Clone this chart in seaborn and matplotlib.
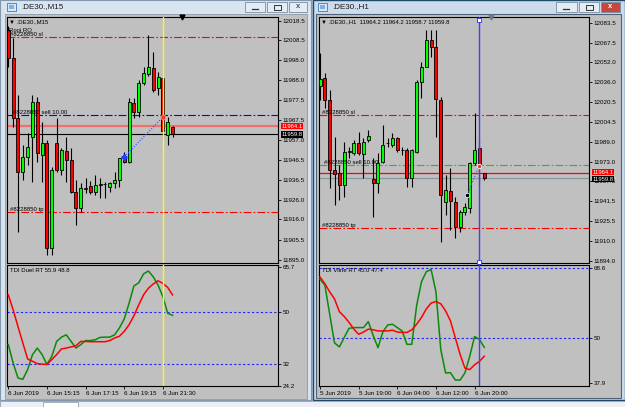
import numpy as np
import matplotlib
matplotlib.use('Agg')
import matplotlib.pyplot as plt
import matplotlib.transforms as mtransforms
from matplotlib.patches import Rectangle
import seaborn as sns

plt.rcParams['font.family'] = ['Liberation Sans', 'DejaVu Sans']
plt.rcParams['font.size'] = 4.5

# ---- .DE30., M15 (left window) ----
m15_open = [12014.0, 11999.1, 11968.1, 11940.6, 11948.3, 11958.6, 11976.7, 11949.2, 11955.2, 11901.0,
            11955.2, 11941.4, 11951.3, 11946.6, 11930.3, 11921.7, 11931.6, 11933.2, 11930.1, 11933.7,
            11934.0, 11932.8, 11934.6, 11936.3, 11947.5, 11945.7, 11975.9, 11971.5, 11986.2, 11991.0,
            11994.2, 11983.6, 11988.8, 11959.5, 11963.8]
m15_high = [12016.0, 12009.4, 11980.2, 11954.4, 11960.5, 11980.2, 11979.3, 11966.4, 11956.9, 11943.2,
            11968.1, 11952.8, 11958.6, 11952.8, 11936.3, 11934.6, 11937.3, 11935.8, 11938.9, 11937.3,
            11935.4, 11935.4, 11940.6, 11947.6, 11950.9, 11978.5, 11978.5, 11987.9, 11994.8, 12011.1,
            12002.3, 11992.2, 11989.6, 11969.0, 11964.2]
m15_low = [11994.8, 11963.8, 11909.6, 11936.3, 11944.0, 11935.4, 11945.7, 11935.4, 11897.6, 11897.6,
           11940.6, 11938.9, 11935.4, 11929.5, 11913.1, 11919.9, 11929.6, 11929.1, 11928.6, 11927.0,
           11927.0, 11930.3, 11932.0, 11932.8, 11944.9, 11944.9, 11968.1, 11969.0, 11985.3, 11990.0,
           11981.9, 11980.2, 11958.6, 11954.4, 11958.5]
m15_close = [11999.1, 11968.1, 11940.6, 11948.3, 11953.5, 11976.7, 11950.1, 11955.2, 11901.0, 11941.4,
             11941.4, 11951.8, 11946.6, 11930.3, 11921.7, 11932.0, 11932.0, 11930.1, 11933.7, 11934.0,
             11934.3, 11934.7, 11936.3, 11947.5, 11945.7, 11976.4, 11971.5, 11986.2, 11991.4, 11994.8,
             11982.7, 11989.6, 11961.6, 11966.4, 11959.8]
m15_ticks = [12018.5, 12008.5, 11998.0, 11988.0, 11977.5, 11967.5, 11957.0,
             11946.5, 11936.5, 11926.0, 11916.0, 11905.5, 11895.0]
m15_dates = ['6 Jun 2019', '6 Jun 15:15', '6 Jun 17:15', '6 Jun 19:15', '6 Jun 21:30']
m15_date_pos = [0, 8, 16, 24, 32]
m15_tdi_red = [55.9, 50.7, 44.9, 39.2, 33.6, 32.8, 32.0, 31.8, 31.7, 33.4, 35.1, 37.1, 37.4, 37.8,
               38.2, 39.7, 39.7, 39.6, 39.6, 39.6, 39.6, 40.0, 40.9, 41.5, 43.2, 45.5, 48.6, 52.4,
               55.9, 58.2, 59.7, 60.8, 59.9, 58.5, 55.9]
m15_tdi_green = [38.6, 32.2, 27.0, 26.5, 29.9, 35.1, 37.4, 35.1, 31.7, 34.5, 39.7, 41.2, 42.0, 39.7,
                 37.4, 38.6, 40.0, 40.0, 40.3, 41.1, 41.2, 41.2, 42.0, 44.4, 47.5, 53.0, 59.0, 60.1,
                 63.2, 64.2, 62.2, 59.3, 55.3, 49.5, 48.8]
m15_tdi_ticks = [65.7, 50, 32, 24.2]
m15_tdi_labels = ['65.7', '50', '32', '24.2']
m15_tdi_levels = [50, 32]
m15_trade_x = [24, 32]
m15_trade_price = [11948.2, 11968.8]
m15_vline = 32

# ---- .DE30., H1 (right window) ----
h1_open = [12033.2, 12039.3, 12022.0, 11966.4, 11963.7, 11954.4, 11980.9, 11979.6, 11988.1, 11978.8,
           11990.2, 11959.2, 11955.8, 11973.0, 11987.6, 11986.2, 11991.6, 11982.3, 11982.3, 11959.8,
           11980.9, 12036.6, 12048.5, 12069.7, 12063.9, 12022.0, 11941.2, 11949.7, 11941.2, 11921.3,
           11933.2, 11936.4, 11971.7, 11983.6, 11964.2]
h1_high = [12059.4, 12043.3, 12030.0, 11992.8, 11970.3, 11988.9, 11984.9, 11990.2, 11996.8, 11991.6,
           11998.2, 11975.7, 11979.6, 12002.2, 11991.6, 11995.5, 11992.8, 11984.9, 11983.6, 11983.0,
           12037.9, 12052.5, 12077.7, 12077.7, 12077.7, 12024.7, 11962.4, 11968.0, 11945.1, 11934.6,
           11939.9, 11973.0, 12011.7, 11991.6, 11964.2]
h1_low = [12022.0, 12015.4, 11951.8, 11938.5, 11942.5, 11945.1, 11975.7, 11978.3, 11978.3, 11959.8,
          11988.9, 11929.2, 11947.8, 11971.7, 11984.9, 11984.9, 11980.9, 11978.3, 11953.1, 11953.1,
          11979.9, 12023.4, 12048.5, 12056.5, 11992.8, 11909.3, 11930.6, 11918.7, 11912.1, 11917.3,
          11930.6, 11931.9, 11970.3, 11954.4, 11958.7]
h1_close = [12038.7, 12022.0, 11966.4, 11962.9, 11954.4, 11980.9, 11981.3, 11987.6, 11979.6, 11988.9,
            11993.6, 11955.8, 11971.7, 11986.2, 11987.8, 11991.6, 11982.3, 11982.4, 11959.8, 11982.3,
            12036.6, 12048.5, 12069.7, 12063.9, 12022.8, 11946.5, 11950.5, 11941.7, 11921.3, 11933.2,
            11937.2, 11971.7, 11982.3, 11969.0, 11959.8]
h1_ticks = [12083.5, 12067.5, 12052.0, 12036.0, 12020.5, 12004.5, 11989.0,
            11973.0, 11957.5, 11941.5, 11925.5, 11910.0, 11894.0]
h1_dates = ['5 Jun 2019', '5 Jun 19:00', '6 Jun 04:00', '6 Jun 12:00', '6 Jun 20:00']
h1_date_pos = [0, 8, 16, 24, 32]
h1_tdi_red = [66.3, 64.5, 62.3, 60.4, 57.0, 55.7, 54.1, 52.3, 50.9, 51.5, 52.3, 52.1, 51.8, 51.8,
              51.8, 52.0, 51.5, 51.4, 51.4, 52.1, 53.6, 55.4, 57.7, 59.3, 59.7, 59.1, 57.2, 54.5,
              50.0, 45.5, 41.8, 41.4, 42.7, 43.6, 45.0]
h1_tdi_green = [65.7, 64.1, 56.3, 48.6, 47.5, 50.0, 52.5, 52.7, 52.7, 52.7, 54.3, 50.6, 47.3, 51.5,
                53.4, 53.6, 52.7, 51.8, 48.2, 48.2, 58.6, 65.0, 67.7, 68.3, 62.3, 46.8, 40.5, 40.6,
                38.6, 38.6, 40.5, 45.0, 50.3, 49.5, 47.4]
h1_tdi_ticks = [68.6, 50, 37.9]
h1_tdi_labels = ['68.6', '50', '37.9']
h1_tdi_levels = [68.6, 50]
h1_trade_x = [30.5, 32.9]
h1_trade_price = [11946.5, 11969.5]
h1_vline = 33

# order #8228850 and current quotes
order_sl = 12010.0
order_entry = 11970.0
order_tp = 11920.0
ask = 11964.1
bid = 11959.8

W, H = 625, 407
fig = plt.figure(figsize=(W / 100, H / 100), dpi=100)
fig.patch.set_facecolor('#aebfd2')

# window chrome
bg = fig.add_axes([0, 0, 1, 1])
bg.set_xlim(0, W)
bg.set_ylim(H, 0)
bg.axis('off')
bg.set_zorder(-5)
bg.add_patch(Rectangle((0, 0), 311, 400, fc='#d9e4f1', ec='#8397ad', lw=0.8))
bg.add_patch(Rectangle((313, 0), 311.5, 400, fc='#cddcec', ec='#1f4a6a', lw=1.0))
bg.add_patch(Rectangle((5, 14), 302, 385, fc='#c0c0c0', ec='#8d9aa8', lw=0.6))
bg.add_patch(Rectangle((316, 14), 305, 384, fc='#c0c0c0', ec='#4f6378', lw=0.8))
bg.add_patch(Rectangle((0, 400.5), W, 7, fc='#eceff3', ec='#97a3b0', lw=0.6))
bg.add_patch(Rectangle((43, 401.5), 35, 6, fc='white', ec='#97a3b0', lw=0.6))
for x0, title in [(7, '.DE30.,M15'), (318, '.DE30.,H1')]:
    bg.add_patch(Rectangle((x0, 2.5), 9, 8, fc='#d8e8f8', ec='#3d78b8', lw=0.6))
    bg.add_patch(Rectangle((x0 + 2, 5), 5, 3.5, fc='#7fb0e0', ec='none'))
    bg.text(x0 + 14, 7, title, fontsize=5.8, va='center', color='#1a1a1a')
for (x0, w), face in zip([(245, 20), (267, 20), (289, 18), (556, 21), (579, 20), (601, 19)],
                         ['#e3ebf4', '#e3ebf4', '#e3ebf4', '#e3ebf4', '#e3ebf4', '#c8473c']):
    bg.add_patch(Rectangle((x0, 2), w, 10, fc=face, ec='#7b8da1', lw=0.6))
for x0 in [245, 556]:
    bg.plot([x0 + 7, x0 + 13], [8.5, 8.5], color='#333333', lw=0.9)
for x0 in [267, 579]:
    bg.add_patch(Rectangle((x0 + 6.5, 4.5), 7, 5, fc='none', ec='#333333', lw=0.7))
bg.text(298, 7, 'x', fontsize=5.5, ha='center', va='center', color='#555555', fontweight='bold')
bg.text(610.5, 7, 'x', fontsize=5.5, ha='center', va='center', color='white', fontweight='bold')


def add_px_axes(x0, y0, x1, y1):
    ax = fig.add_axes([x0 / W, 1 - y1 / H, (x1 - x0) / W, (y1 - y0) / H])
    ax.set_facecolor('#c0c0c0')
    for s in ax.spines.values():
        s.set_color('black')
        s.set_linewidth(0.8)
    ax.yaxis.tick_right()
    ax.tick_params(axis='y', length=2, width=0.6, pad=1, labelsize=4.5)
    return ax


def draw_candles(ax, o, h, l, c):
    o, h, l, c = map(np.asarray, (o, h, l, c))
    idx = np.arange(len(o))
    ax.vlines(idx, l, h, color='black', lw=0.8, zorder=3)
    body_lo = np.minimum(o, c)
    body_h = np.maximum(np.abs(c - o), 0.05)
    colors = np.where(c >= o, '#00ff00', '#ff0000')
    ax.bar(idx, body_h, bottom=body_lo, width=0.62, color=colors,
           edgecolor='black', linewidth=0.6, zorder=4)


def price_box(ax, value, text, face, dy):
    ax.annotate(text, xy=(1, value), xycoords=('axes fraction', 'data'),
                xytext=(2.2, dy), textcoords='offset points', va='center', ha='left',
                fontsize=4.2, color='white', annotation_clip=False, zorder=10,
                bbox=dict(boxstyle='square,pad=0.12', fc=face, ec='none'))


dashdot = (0, (7, 2, 1.5, 2))


def main_panel(x0, x1, xlim, ylim, o, h, l, c, ticks, entry_color, ask_kw, bid_kw,
               head, vline, vline_color, trade_x, trade_price, shift_x, shift_color, box_dy):
    ax = add_px_axes(x0, 17.3, x1, 263.3)
    draw_candles(ax, o, h, l, c)
    ax.set_xlim(*xlim)
    ax.set_ylim(*ylim)
    ax.set_xticks([])
    ax.set_yticks(ticks)
    ax.set_yticklabels([f'{t:.1f}' for t in ticks])
    ax.axhline(order_sl, color='#ff0000', lw=0.8, ls=dashdot, zorder=2)
    ax.axhline(order_entry, color=entry_color, lw=0.8, ls=dashdot, zorder=2)
    ax.axhline(order_tp, color='#ff0000', lw=0.8, ls=dashdot, zorder=2)
    ax.axhline(ask, zorder=2, **ask_kw)
    ax.axhline(bid, zorder=2, **bid_kw)
    ax.axvline(vline, color=vline_color, lw=1.0, zorder=5)
    ax.plot(trade_x, trade_price, color='#3050ff', lw=0.8, ls=(0, (1, 1.5)), zorder=6)
    ax.text(0.4, order_sl, '#8228850 sl', fontsize=4.3, va='bottom', zorder=7)
    ax.text(0.9, order_entry, '#8228850 sell 10.00', fontsize=4.3, va='bottom', zorder=7)
    ax.text(0.4, order_tp, '#8228850 tp', fontsize=4.3, va='bottom', zorder=7)
    for k, line in enumerate(head):
        ax.text(0.008, 0.99 - k * 0.035, line, transform=ax.transAxes, fontsize=4.3,
                va='top', ha='left', zorder=7)
    trans = mtransforms.blended_transform_factory(ax.transData, ax.transAxes)
    ax.plot([shift_x], [1.0], marker='v', ms=3.5, color=shift_color, transform=trans,
            clip_on=False, zorder=8)
    price_box(ax, ask, f'{ask:.1f}', '#ff0000', box_dy)
    price_box(ax, bid, f'{bid:.1f}', '#000000', -box_dy)
    return ax


def tdi_panel(x0, x1, xlim, ylim, red, green, ticks, labels, levels, dates, date_pos,
              head, vline, vline_color):
    ax = add_px_axes(x0, 264.7, x1, 386)
    idx = np.arange(len(red))
    for lv in levels:
        ax.axhline(lv, color='#2020ff', lw=0.8, ls=(0, (2, 2)), zorder=1)
    sns.lineplot(x=idx, y=green, ax=ax, color='#0a8a0a', linewidth=1.1, zorder=3)
    sns.lineplot(x=idx, y=red, ax=ax, color='#ff0000', linewidth=1.1, zorder=3)
    ax.axvline(vline, color=vline_color, lw=1.0, zorder=4)
    ax.set_xlim(*xlim)
    ax.set_ylim(*ylim)
    ax.set_yticks(ticks)
    ax.set_yticklabels(labels)
    ax.set_xticks(date_pos)
    ax.set_xticklabels(dates, ha='left')
    ax.tick_params(axis='x', length=2, width=0.6, pad=1.5, labelsize=4.5)
    ax.set_xlabel('')
    ax.set_ylabel('')
    ax.text(0.01, 0.975, head, transform=ax.transAxes, fontsize=4.3, va='top', ha='left')
    return ax


# left window
main_panel(7.3, 278.3, (-0.21, 55.9), (11893.3, 12020.3),
           m15_open, m15_high, m15_low, m15_close, m15_ticks, '#0000ff',
           dict(color='#ee7070', lw=1.6), dict(color='black', lw=0.8),
           ['\u25bc .DE30.,M15', 'Rooj RO'], m15_vline, '#ffff00',
           m15_trade_x, m15_trade_price, 36, 'black', 0.0)
ax_l = fig.axes[-1]
ax_l.plot(m15_trade_x[:1], m15_trade_price[:1], marker='P', ms=3.5, color='#2040ff', zorder=9)
ax_l.plot(m15_trade_x[1:], m15_trade_price[1:], marker='o', ms=3.5, mfc='#ff3030',
          mec='#ffa040', mew=0.6, zorder=9)
tdi_panel(7.3, 278.3, (-0.21, 55.9), (24.2, 66.4), m15_tdi_red, m15_tdi_green,
          m15_tdi_ticks, m15_tdi_labels, m15_tdi_levels, m15_dates, m15_date_pos,
          'TDI Duel RT 55.9 48.8', m15_vline, '#ffff00')

# right window
main_panel(319.3, 589.3, (-0.15, 55.75), (11892.2, 12087.8),
           h1_open, h1_high, h1_low, h1_close, h1_ticks, '#20c020',
           dict(color='#ff0000', lw=0.9), dict(color='#8a989e', lw=0.9),
           ['\u25bc .DE30.,H1  11964.2 11964.2 11958.7 11959.8'], h1_vline, '#4040ff',
           h1_trade_x, h1_trade_price, 35.5, '#6a7a8a', 0.6)
ax_r = fig.axes[-1]
ax_r.plot(h1_trade_x[:1], h1_trade_price[:1], marker='o', ms=3.2, color='black',
          mec='white', mew=0.5, zorder=9)
ax_r.plot(h1_trade_x[1:], h1_trade_price[1:], marker='o', ms=3.2, mfc='#ff3030',
          mec='white', mew=0.6, zorder=9)
trans_r = mtransforms.blended_transform_factory(ax_r.transData, ax_r.transAxes)
ax_r.plot([h1_vline, h1_vline], [0.99, 0.005], ls='none', marker='s', ms=2.6, mfc='white',
          mec='#4040ff', mew=0.7, transform=trans_r, clip_on=False, zorder=9)
tdi_panel(319.3, 589.3, (-0.15, 55.75), (37.0, 69.6), h1_tdi_red, h1_tdi_green,
          h1_tdi_ticks, h1_tdi_labels, h1_tdi_levels, h1_dates, h1_date_pos,
          'TDI Vline RT 45.0 47.4', h1_vline, '#4040ff')

fig.savefig('out.png', dpi=100, facecolor=fig.get_facecolor())
